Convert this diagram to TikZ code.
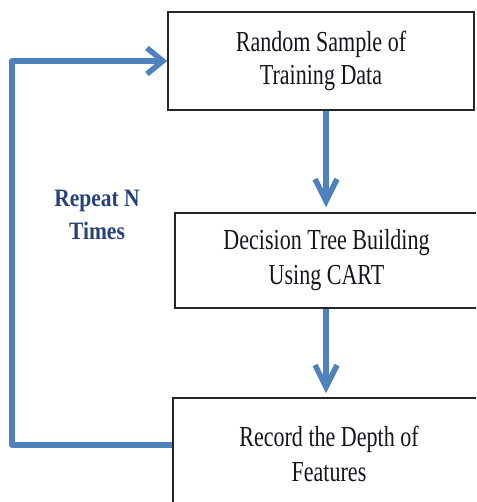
\documentclass[tikz,border=0pt]{standalone}
\usepackage{fontspec}
\usetikzlibrary{arrows.meta}
\newfontfamily\boxfont[FakeStretch=0.76]{Liberation Serif}
\newfontfamily\repfont[FakeStretch=0.86]{Liberation Serif}
\definecolor{flowblue}{RGB}{79,129,189}
\definecolor{repblue}{RGB}{38,66,124}
\definecolor{textdark}{RGB}{20,20,30}
\tikzset{
  stepbox/.style={draw=black!85, line width=1.5pt, inner sep=0pt, align=center,
    text=textdark, font=\boxfont\fontsize{29}{35}\selectfont},
  flowdown/.style={draw=flowblue, line width=6pt,
    -{Straight Barb[length=22pt,width=22pt,line width=5.5pt]}},
  loopline/.style={draw=flowblue, line width=6pt, line join=round,
    -{Straight Barb[length=16pt,width=26pt,line width=5.5pt]}},
  replabel/.style={align=center, text=repblue,
    font=\repfont\bfseries\fontsize{25}{33}\selectfont}
}
\begin{document}
\begin{tikzpicture}[x=1pt,y=-1pt]
\useasboundingbox (0,0) rectangle (476,502);
\clip (0,0) rectangle (476,502);
\node[stepbox, minimum width=306pt, minimum height=98pt] (top) at (321,61)
  {\raisebox{-2pt}{Random Sample of}\\Training Data};
\node[stepbox, minimum width=303pt, minimum height=95pt] (mid) at (326.5,260.5)
  {Decision Tree Building\\Using CART};
\node[stepbox, minimum width=312pt, minimum height=112pt] (bot) at (329,454)
  {Record the Depth of\\Features};
\node[replabel] (rep) at (97,215) {Repeat N\\Times};
\draw[flowdown, shorten >=5pt] ([xshift=5pt]top.south) -- ([xshift=5pt]top.south |- mid.north);
\draw[flowdown, shorten >=4pt] ([xshift=-0.5pt]mid.south) -- ([xshift=-0.5pt]mid.south |- bot.north);
\draw[loopline] ([yshift=9pt]bot.west) -- ++(-160pt,0) |- (top.west);
\end{tikzpicture}
\end{document}
